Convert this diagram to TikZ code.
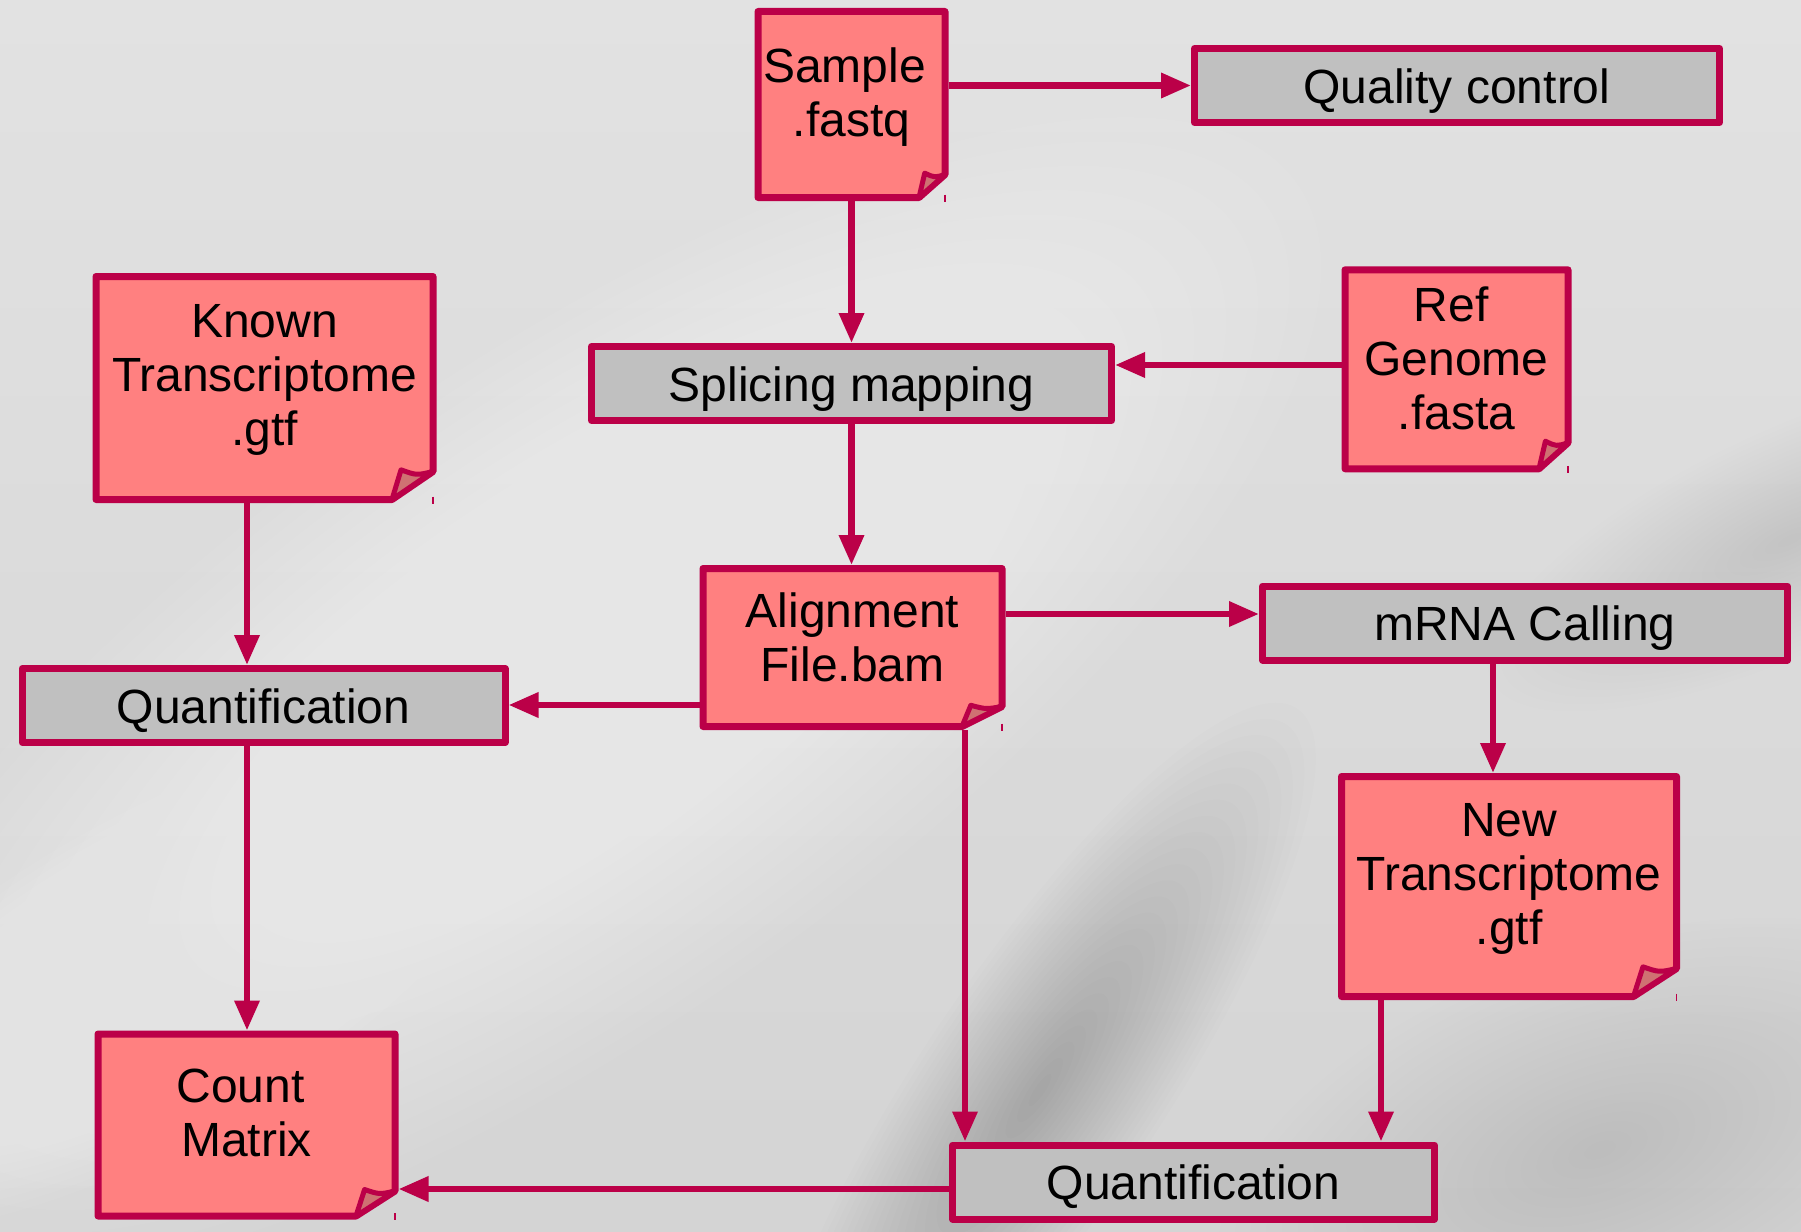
\documentclass[tikz,border=0pt]{standalone}
\usepackage{fontspec}
\setmainfont{Liberation Sans}
\usetikzlibrary{arrows.meta,calc}

\definecolor{crimson}{RGB}{187,0,72}
\definecolor{docpink}{RGB}{255,128,128}
\definecolor{boxgray}{RGB}{192,192,192}
\definecolor{flappink}{RGB}{207,114,114}

\pgfdeclarelayer{backdrop}
\pgfdeclarelayer{paper}
\pgfsetlayers{backdrop,paper,main}

\newcommand\bigfont{\fontsize{48}{54}\selectfont}

% soft-edged elliptic patch built from stacked translucent ellipses
% #1 colour, #2 opacity per layer, #3 #4 centre, #5 #6 radii, #7 angle
\newcommand\softspot[7]{%
  \foreach \k in {1,...,24}{%
    \fill[#1, opacity=#2, rotate around={#7:(#3,#4)}]
      (#3,#4) ellipse [x radius={#5/24*\k*1pt}, y radius={#6/24*\k*1pt}];}}

% document outline with a folded lower right corner
% #1 node name, #2 horizontal cut, #3 vertical cut
\newcommand\paperdoc[3]{%
  \coordinate (#1-nw) at ([shift={(3.5pt,-3.5pt)}]#1.north west);
  \coordinate (#1-se) at ([shift={(-3.5pt,3.5pt)}]#1.south east);
  \begin{pgfonlayer}{paper}
    \draw[docline, fill=docpink]
      (#1-nw) -- (#1-nw -| #1-se) -- ([yshift=#3pt]#1-se)
      -- ([xshift=-#2pt]#1-se) -- (#1-nw |- #1-se) -- cycle;
    \draw[flapline, fill=flappink]
      ([xshift=-#2pt]#1-se)
      -- ([shift={({-0.78*#2pt},{1.06*#3pt})}]#1-se)
      .. controls ([shift={({-0.4*#2pt},{0.86*#3pt})}]#1-se) ..
      ([yshift=#3pt]#1-se) -- cycle;
    \draw[crimson, line width=1.5pt]
      ([yshift=3pt]#1-se) -- ([yshift=-4pt]#1-se);
  \end{pgfonlayer}}

\begin{document}
\begin{tikzpicture}[x=1pt,y=-1pt,
  docline/.style={draw=crimson, line width=7pt, line join=round},
  flapline/.style={draw=crimson, line width=5pt, line join=round},
  docbox/.style={draw=none, inner sep=0pt, outer sep=3.5pt, line width=7pt},
  doctext/.style={align=center, inner sep=0pt, font=\bigfont},
  stepbox/.style={draw=crimson, fill=boxgray, line width=7pt, line join=round,
    inner sep=0pt, minimum height=74pt, text height=35pt, text depth=0pt,
    font=\bigfont},
  flow/.style={draw=crimson, line width=6.5pt,
    -{Triangle[length=30pt,width=24pt]}},
]
\useasboundingbox (0,0) rectangle (1801,1231);

% silver backdrop
\begin{pgfonlayer}{backdrop}
  \shade[top color={rgb,255:red,226;green,226;blue,226},
         bottom color={rgb,255:red,212;green,212;blue,212}]
    (0,0) rectangle (1801,1231);
  \softspot{white}{0.04}{560}{700}{900}{330}{35}
  \softspot{white}{0.02}{420}{170}{700}{210}{15}
  \softspot{white}{0.034}{150}{980}{420}{160}{30}
  \softspot{black}{0.0095}{1040}{1090}{460}{120}{56}
  \softspot{black}{0.0035}{1790}{540}{330}{110}{25}
  \softspot{black}{0.002}{1600}{1150}{400}{200}{20}
\end{pgfonlayer}

% process steps
\node[stepbox, minimum width=525pt] (qc)     at (1457,85.5)   {Quality control};
\node[stepbox, minimum width=520pt] (splice) at (851.5,383.5) {Splicing mapping};
\node[stepbox, minimum width=525pt] (mrna)   at (1525,623)    {mRNA Calling};
\node[stepbox, minimum width=483pt] (quantL) at (263.5,705.5) {Quantification};
\node[stepbox, minimum width=482pt] (quantB) at (1193.5,1182) {Quantification};

% data files
\node[docbox, minimum width=187pt, minimum height=186pt] (sample) at (851.5,104.5) {};
\node[docbox, minimum width=337pt, minimum height=223pt] (known)  at (264.5,388)   {};
\node[docbox, minimum width=223pt, minimum height=199pt] (ref)    at (1456.5,369.3) {};
\node[docbox, minimum width=299pt, minimum height=158pt] (align)  at (852.5,647.5) {};
\node[docbox, minimum width=335pt, minimum height=220pt] (newt)   at (1509,886.5)  {};
\node[docbox, minimum width=297pt, minimum height=182pt] (count)  at (246.5,1125)  {};

\paperdoc{sample}{26}{23}
\paperdoc{known}{41}{28}
\paperdoc{ref}{29}{26}
\paperdoc{align}{40}{20}
\paperdoc{newt}{43}{28}
\paperdoc{count}{39}{25}

\node[doctext] (sample-t) at (851.5,97.5)  {Sample\hspace*{14pt}\\.fastq};
\node[doctext] (known-t)  at (264.5,380)   {Known\\Transcriptome\\.gtf};
\node[doctext] (ref-t)    at (1456.5,358)  {Ref\hspace*{11pt}\\Genome\\.fasta};
\node[doctext] (align-t)  at (852.5,637.5) {Alignment\\File.bam};
\node[doctext] (newt-t)   at (1509,878.5)  {New\\Transcriptome\\.gtf};
\node[doctext] (count-t)  at (246.5,1113)  {Count\hspace*{12pt}\\Matrix};

% connector rails
\coordinate (rowQ) at (0,85.5);
\coordinate (rowR) at (0,365);
\coordinate (rowM) at (0,614);
\coordinate (rowL) at (0,705);
\coordinate (rowC) at (0,1189);
\coordinate (colK) at (247,0);
\coordinate (colA) at (965,0);
\coordinate (colN) at (1381,0);
\coordinate (colM) at (1493,0);

% flow
\draw[flow] (sample.east |- rowQ) -- (qc.west |- rowQ);
\draw[flow] (sample.south) -- (splice.north);
\draw[flow] (ref.west |- rowR) -- (splice.east |- rowR);
\draw[flow] (splice.south) -- (splice.south |- align.north);
\draw[flow] (colK |- known.south) -- (colK |- quantL.north);
\draw[flow] (align.west |- rowL) -- (quantL.east |- rowL);
\draw[flow] (align.east |- rowM) -- (mrna.west |- rowM);
\draw[flow] (colM |- mrna.south) -- (colM |- newt.north);
\draw[flow] (colK |- quantL.south) -- (colK |- count.north);
\draw[flow] (colA |- align.south) -- (colA |- quantB.north);
\draw[flow] ([yshift=7pt]colN |- newt.south) -- (colN |- quantB.north);
\draw[flow] (quantB.west |- rowC) -- (count.east |- rowC);
\end{tikzpicture}
\end{document}
